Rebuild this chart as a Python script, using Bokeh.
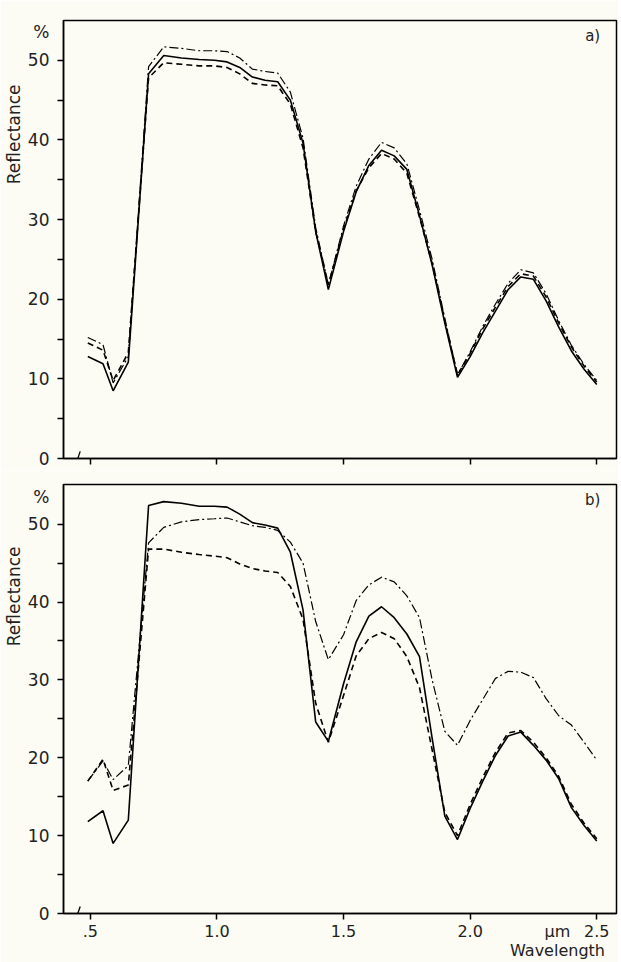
from bokeh.plotting import figure
from bokeh.layouts import column
from bokeh.models import Range1d, FixedTicker, Label, Title
from bokeh.embed import file_html
from bokeh.resources import INLINE

# ---------------- data ----------------
wavelength = [0.49, 0.55, 0.59, 0.65, 0.73, 0.79, 0.86, 0.93, 0.99, 1.04,
              1.09, 1.14, 1.19, 1.24, 1.29, 1.34, 1.39, 1.44, 1.50, 1.55,
              1.60, 1.65, 1.70, 1.75, 1.80, 1.85, 1.90, 1.95, 2.00, 2.05,
              2.10, 2.15, 2.20, 2.25, 2.30, 2.35, 2.40, 2.45, 2.50]

a_solid = [12.8, 11.9, 8.5, 12.1, 48.3, 50.6, 50.3, 50.1, 50.0, 49.8,
           49.1, 47.9, 47.5, 47.3, 45.0, 39.6, 28.5, 21.2, 28.5, 33.5,
           36.8, 38.7, 38.0, 36.3, 30.5, 24.3, 17.0, 10.2, 12.8, 15.8,
           18.5, 21.2, 22.8, 22.5, 19.8, 16.5, 13.5, 11.2, 9.3]
a_dashed = [14.5, 13.6, 9.8, 13.3, 47.8, 49.7, 49.5, 49.3, 49.3, 49.1,
            48.3, 47.1, 46.9, 46.8, 44.5, 39.0, 28.5, 21.8, 28.8, 33.6,
            36.5, 38.3, 37.6, 35.8, 30.3, 24.5, 17.3, 10.5, 13.2, 16.3,
            19.0, 21.6, 23.2, 22.9, 20.3, 17.0, 14.0, 11.6, 9.6]
a_dashdot = [15.2, 14.3, 9.5, 12.8, 49.2, 51.7, 51.5, 51.2, 51.2, 51.1,
             50.3, 48.9, 48.6, 48.4, 46.0, 40.2, 29.0, 21.8, 29.2, 34.2,
             37.6, 39.7, 39.0, 37.0, 31.2, 25.0, 17.6, 10.5, 13.4, 16.6,
             19.4, 22.0, 23.7, 23.3, 20.7, 17.3, 14.2, 11.8, 9.8]

b_solid = [11.8, 13.2, 9.0, 12.0, 52.4, 52.9, 52.7, 52.3, 52.3, 52.2,
           51.3, 50.2, 49.9, 49.5, 46.4, 39.0, 24.6, 22.1, 29.5, 34.9,
           38.2, 39.4, 38.0, 35.9, 33.0, 22.5, 12.5, 9.5, 13.5, 17.0,
           20.3, 22.8, 23.3, 21.6, 19.7, 17.3, 13.6, 11.3, 9.3]
b_dashed = [17.0, 19.8, 15.8, 16.5, 46.8, 46.8, 46.4, 46.1, 45.9, 45.7,
            44.9, 44.3, 44.0, 43.8, 42.0, 37.8, 27.0, 22.0, 28.0, 33.1,
            35.3, 36.1, 35.3, 33.0, 29.0, 21.0, 13.0, 10.0, 14.0, 17.5,
            20.7, 23.2, 23.5, 22.0, 20.0, 17.6, 14.0, 11.6, 9.6]
b_dashdot = [17.0, 19.6, 17.2, 19.0, 47.6, 49.6, 50.3, 50.6, 50.7, 50.8,
             50.3, 49.8, 49.6, 49.2, 47.7, 45.0, 37.5, 32.6, 35.8, 40.2,
             42.2, 43.2, 42.6, 40.8, 38.0, 30.0, 23.4, 21.6, 24.8, 27.5,
             30.2, 31.1, 31.0, 30.3, 27.6, 25.4, 24.2, 22.0, 19.7]

y_ticks = [0, 10, 20, 30, 40, 50]
y_minor = [5, 15, 25, 35, 45]
x_ticks = [0.5, 1.0, 1.5, 2.0, 2.5]
x_tick_labels = [".5", "1.0", "1.5", "2.0", "2.5"]
unit_pos_y = 53.5          # where the "%" unit sits on the y axis
unit_pos_x = 2.345         # where the "µm / Wavelength" text sits on the x axis
y_unit = "%"
x_unit = "µm\nWavelength"
y_title = "Reflectance"

BG = "#fcfcf4"
FONT = "DejaVu Sans"
INK = "#222222"


def panel(height, x_end, y_end, border_top, border_bottom,
          solid, dashed, dashdot, tag, title_offset, show_labels):
    p = figure(width=618, height=height,
               x_range=Range1d(0.394, x_end), y_range=Range1d(0, y_end),
               output_backend="svg", toolbar_location=None,
               min_border_left=61, min_border_right=2,
               min_border_top=border_top, min_border_bottom=border_bottom)
    p.background_fill_color = BG
    p.border_fill_color = BG
    p.outline_line_color = "black"
    p.outline_line_width = 1.5
    p.grid.visible = False

    p.line(wavelength, solid, line_color="black", line_width=1.6)
    p.line(wavelength, dashed, line_color="black", line_width=1.6,
           line_dash="6 4")
    p.line(wavelength, dashdot, line_color="black", line_width=1.2,
           line_dash="9 3 2 3")

    # axis break mark
    p.segment(x0=[0.442], y0=[-0.8], x1=[0.460], y1=[0.9],
              line_color="black", line_width=1.3)

    for ax in (p.xaxis[0], p.yaxis[0]):
        ax.axis_line_color = "black"
        ax.axis_line_width = 1.5
        ax.major_tick_out = 0
        ax.major_tick_in = 0
        ax.major_tick_line_alpha = 0
        ax.minor_tick_out = 6
        ax.minor_tick_in = 0
        ax.minor_tick_line_width = 1.5
        ax.minor_tick_line_color = "black"
        ax.major_label_text_font = FONT
        ax.major_label_text_font_size = "17px"
        ax.major_label_text_color = INK
        ax.axis_label_standoff = 0
    p.yaxis.major_label_standoff = 8
    p.xaxis.major_label_standoff = 2

    # visible ticks are drawn as minor ticks; labelled positions are majors
    p.yaxis.ticker = FixedTicker(ticks=y_ticks + [unit_pos_y],
                                 minor_ticks=sorted(y_ticks + y_minor))
    p.yaxis.major_label_overrides = {unit_pos_y: y_unit}

    if show_labels:
        p.xaxis.ticker = FixedTicker(ticks=x_ticks + [unit_pos_x], minor_ticks=x_ticks)
        ov = {t: s for t, s in zip(x_ticks, x_tick_labels)}
        ov[unit_pos_x] = x_unit
        p.xaxis.major_label_overrides = ov
        p.xaxis.major_label_text_font_size = "16px"
        p.xaxis.major_label_text_line_height = 1.0
    else:
        p.xaxis.ticker = FixedTicker(ticks=[], minor_ticks=x_ticks)

    p.add_layout(Title(text=y_title, align="right", offset=title_offset,
                       standoff=2, text_font=FONT, text_font_size="17px",
                       text_font_style="normal", text_color=INK), "left")

    p.add_layout(Label(x=2.484, y=53.1, text=tag, text_font=FONT,
                       text_font_size="15px", text_align="center",
                       text_baseline="middle", text_color=INK))
    return p


p1 = panel(470, 2.578, 55.0, 20, 12, a_solid, a_dashed, a_dashdot, "a)", 64, False)
p2 = panel(492, 2.578, 55.1, 14, 45, b_solid, b_dashed, b_dashdot, "b)", 62, True)

layout = column(p1, p2)
open("out.html", "w").write(file_html(layout, INLINE))
